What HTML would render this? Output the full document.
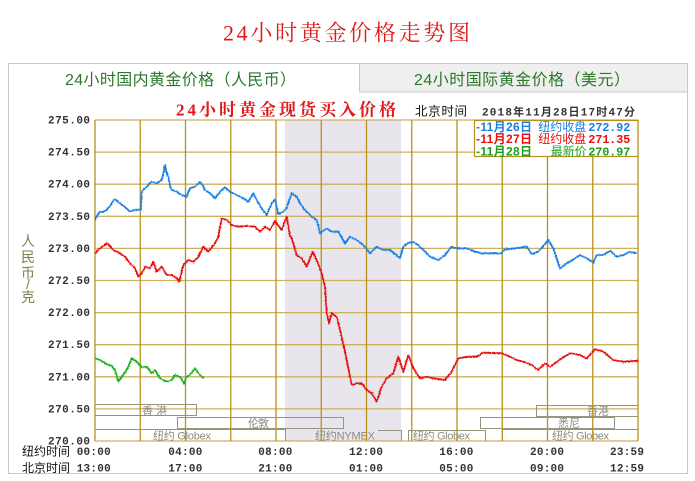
<!DOCTYPE html>
<html>
<head>
<meta charset="utf-8">
<style>
html,body{margin:0;padding:0;background:#fff;}
svg{display:block;}
.sans{font-family:"Liberation Sans","Noto Sans CJK SC",sans-serif;}
.serif{font-family:"Liberation Serif","Noto Serif CJK SC",serif;}
.mono{font-family:"Liberation Mono","Noto Sans CJK SC",monospace;font-weight:bold;}
</style>
</head>
<body>
<svg width="695" height="481" viewBox="0 0 695 481" xmlns="http://www.w3.org/2000/svg">
  <defs>
    <filter id="rough" x="-5%" y="-5%" width="110%" height="110%">
      <feTurbulence type="fractalNoise" baseFrequency="0.9" numOctaves="2" seed="3" result="n"/>
      <feDisplacementMap in="SourceGraphic" in2="n" scale="2.5" xChannelSelector="R" yChannelSelector="G"/>
    </filter>
  </defs>
  <rect x="0" y="0" width="695" height="481" fill="#ffffff"/>

  <!-- Title -->
  <text x="223" y="40.5" class="serif" font-size="22" fill="#e01818" textLength="247" lengthAdjust="spacing">24小时黄金价格走势图</text>

  <!-- Frame -->
  <rect x="8.5" y="63.5" width="679" height="410" fill="#ffffff" stroke="#c8c8c8" stroke-width="1"/>
  <!-- Tab 2 (inactive) -->
  <rect x="359.5" y="63.5" width="328" height="28.5" fill="#efefef" stroke="#c8c8c8" stroke-width="1"/>

  <text x="65" y="85" class="sans" font-size="16" fill="#2a7a2a" textLength="231" lengthAdjust="spacing">24小时国内黄金价格（人民币）</text>
  <text x="414" y="85" class="sans" font-size="16" fill="#2a7a2a" textLength="216" lengthAdjust="spacing">24小时国际黄金价格（美元）</text>

  <!-- Subtitle -->
  <text x="176" y="115.5" class="serif" font-size="17" font-weight="bold" fill="#e01818" textLength="220" lengthAdjust="spacing">24小时黄金现货买入价格</text>
  <text x="415" y="115.5" class="sans" font-size="12.5" fill="#111" textLength="52" lengthAdjust="spacing">北京时间</text>
  <text x="482" y="115.5" class="mono" font-size="11" fill="#333" textLength="153" lengthAdjust="spacing">2018年11月28日17时47分</text>

  <!-- Shaded region -->
  <rect x="285" y="120" width="116" height="321" fill="#e8e6ec"/>

  <!-- Horizontal grid -->
  <g stroke="#cdb060" stroke-width="1.3">
    <line x1="95" y1="120" x2="638" y2="120"/>
    <line x1="95" y1="152.1" x2="638" y2="152.1"/>
    <line x1="95" y1="184.2" x2="638" y2="184.2"/>
    <line x1="95" y1="216.3" x2="638" y2="216.3"/>
    <line x1="95" y1="248.4" x2="638" y2="248.4"/>
    <line x1="95" y1="280.5" x2="638" y2="280.5"/>
    <line x1="95" y1="312.6" x2="638" y2="312.6"/>
    <line x1="95" y1="344.7" x2="638" y2="344.7"/>
    <line x1="95" y1="376.8" x2="638" y2="376.8"/>
    <line x1="95" y1="408.9" x2="638" y2="408.9"/>
    <line x1="95" y1="441" x2="638" y2="441"/>
  </g>

  <!-- Exchange boxes -->
  <g stroke="#95957f" stroke-width="1" fill="none">
    <polyline points="95,404.5 196.5,404.5 196.5,415.5 95,415.5"/>
    <rect x="177.5" y="417.5" width="166" height="11"/>
    <polyline points="95,429.5 285.5,429.5 285.5,441"/>
    <polyline points="378,430.5 401.5,430.5 401.5,441"/>
    <polyline points="408.5,441 408.5,430.5 485.5,430.5 485.5,441"/>
    <polyline points="502.5,441 502.5,429.5 638,429.5"/>
    <rect x="480.5" y="417.5" width="134" height="11"/>
    <polyline points="638,405.5 536.5,405.5 536.5,416.5 638,416.5"/>
  </g>
  <g class="sans" font-size="11" fill="#8a8a80">
    <text x="142" y="414.5" textLength="25" lengthAdjust="spacing">香港</text>
    <text x="248" y="427" textLength="21" lengthAdjust="spacing">伦敦</text>
    <text x="153" y="439.5" textLength="58" lengthAdjust="spacing">纽约 Globex</text>
    <text x="315" y="439.5" textLength="60" lengthAdjust="spacing">纽约NYMEX</text>
    <text x="413" y="439.5" textLength="57" lengthAdjust="spacing">纽约 Globex</text>
    <text x="552" y="439.5" textLength="57" lengthAdjust="spacing">纽约 Globex</text>
    <text x="558" y="427" textLength="22" lengthAdjust="spacing">悉尼</text>
    <text x="587" y="414.5" textLength="22" lengthAdjust="spacing">香港</text>
  </g>

  <!-- Vertical grid -->
  <g stroke="#b8921e" stroke-width="1.3">
    <line x1="95" y1="120" x2="95" y2="441"/>
    <line x1="140.25" y1="120" x2="140.25" y2="441"/>
    <line x1="185.5" y1="120" x2="185.5" y2="441"/>
    <line x1="230.75" y1="120" x2="230.75" y2="441"/>
    <line x1="276" y1="120" x2="276" y2="441"/>
    <line x1="321.25" y1="120" x2="321.25" y2="441"/>
    <line x1="366.5" y1="120" x2="366.5" y2="441"/>
    <line x1="411.75" y1="120" x2="411.75" y2="441"/>
    <line x1="457" y1="120" x2="457" y2="441"/>
    <line x1="502.25" y1="120" x2="502.25" y2="441"/>
    <line x1="547.5" y1="120" x2="547.5" y2="441"/>
    <line x1="592.75" y1="120" x2="592.75" y2="441"/>
    <line x1="638" y1="120" x2="638" y2="441"/>
  </g>

  <!-- Series -->
  <g filter="url(#rough)">
  <polyline fill="none" stroke="#1c80e2" stroke-width="1.8" stroke-linejoin="round" points="95,220 98,214 100,211.7 103,212 106.7,210 110,206 113,201 115,199.3 117,201 120,203.3 125,207 130,211.7 134,210 138,210 141,209.5 141.7,192 144,189 146.7,186.7 150,183 151.7,181.7 156.7,183.3 160,181 161.7,180 163,175 165,165 166.5,172 168.3,176.7 170,186 171.7,190 176.7,191.7 181.7,195 186.7,196.7 190,188.3 195,186.7 200,181.7 203,186 205,190 210,193.3 215,198.3 220,191.7 225,187.3 230,191.7 236.7,195 243.3,198.3 248.3,201.7 253.3,193.3 256.7,200 261.7,208.3 266.7,215 271.7,203.3 275,199.3 278.3,214 283.3,211.7 286.7,208 291.7,193.3 296.7,196.7 300,203.3 305,210 311.7,216.7 316.7,220 320,233.3 326.7,228.3 331.7,231.7 338.3,231.7 345,243.3 350,236.7 356.7,240 363.3,245 370,253.3 376.7,246.7 383.3,250 390,250 395,254 398.3,256.7 400,258 403.3,246.7 408,243 413.3,241.7 418,245 421.7,248.3 430,256.7 438.3,260 445,255 451.7,246.7 456.7,248.3 466.7,248.3 475,251.7 481.7,253.3 501.7,253.3 505,249.3 515,248.3 526.7,246.7 531.7,254 538.3,251.7 548.3,240 553.3,248.3 560,268.3 566.7,263.3 575,258.3 580,255 586.7,258.3 593.3,262.7 596.7,255 603.3,255 610,250.7 616.7,256.7 623.3,255 630,251.7 636.7,253.3"/>
  <polyline fill="none" stroke="#e81010" stroke-width="1.8" stroke-linejoin="round" points="95,253.3 100,248.3 106.7,243.3 110,246 113.3,250 120,253.3 125,256.7 130,263.3 135,268.3 138.3,276.7 141.7,273.3 145,266.7 150,268.3 153.3,261.7 156.7,271.7 161.7,266.7 166.7,275 171.7,275 176.7,278.3 179.3,281.7 183.3,265 188.3,260 193.3,261.7 198.3,256.7 203.3,246.7 208.3,251.7 215,243.3 218.3,236.7 221.7,218.3 226.7,220 231.7,225 238.3,226.7 246.7,226 255,226.7 260,231.7 265,226.7 270,230 275,221 281.7,230 286.7,216.7 290,236 291.7,238.3 296.7,255 301.7,258.3 306.7,266.7 312.7,251.7 317.3,261.7 321.7,273.3 325,286.7 326.7,313.3 329,323.3 331.7,313.3 336.7,316.7 341.7,336.7 346.7,360 351.7,385 356.7,383.3 361.7,383.3 366.7,390 371.7,393.3 376.7,401.7 381.7,386.7 386.7,378.3 393.3,373.3 398.3,356.7 403.3,371.7 408.3,355 413.3,368.3 420,378.3 426.7,376.7 433.3,378.3 445,380 451.7,371.7 458.3,358.3 466.7,356.7 476.7,356.7 483.3,352.7 501.7,353.3 510,356.7 516.7,360 523.3,361.7 531.7,365 538.3,370 545,363.3 550,366.7 561.7,358.3 570,353.3 580,355 586.7,358.3 595,349.3 603.3,351.7 613.3,360 623.3,361.7 638.3,360.7"/>
  <polyline fill="none" stroke="#18b018" stroke-width="1.8" stroke-linejoin="round" points="95.3,358.3 100,360 105,363.3 111.7,366 115,370 118.3,381.7 121.7,376.7 126.7,370 131.7,358.3 136.7,361.7 141.7,367.3 146.7,366.7 151.7,373.3 155,370 160,378.3 166.7,381.7 171.7,380 175,375 180,376.7 184,383.3 186.7,376.7 190,375 195,368.3 198.3,373.3 201.7,376.7 204,378.3"/>
  </g>

  <!-- Legend -->
  <rect x="474.5" y="120.5" width="163.5" height="36" fill="#ffffff" stroke="#b8921e" stroke-width="1.2"/>
  <g font-size="12" font-weight="bold">
    <text x="476" y="131" class="sans" fill="#1c80e2" textLength="56" lengthAdjust="spacing">-11月26日</text>
    <text x="538.3" y="131" class="sans" font-weight="normal" fill="#1c80e2" textLength="48" lengthAdjust="spacing">纽约收盘</text>
    <text x="588.3" y="131" class="mono" fill="#1c80e2" textLength="42" lengthAdjust="spacing">272.92</text>
    <text x="476" y="143" class="sans" fill="#e81010" textLength="56" lengthAdjust="spacing">-11月27日</text>
    <text x="538.3" y="143" class="sans" font-weight="normal" fill="#e81010" textLength="48" lengthAdjust="spacing">纽约收盘</text>
    <text x="588.3" y="143" class="mono" fill="#e81010" textLength="42" lengthAdjust="spacing">271.35</text>
    <text x="476" y="155.5" class="sans" fill="#18a018" textLength="56" lengthAdjust="spacing">-11月28日</text>
    <text x="550.7" y="155.5" class="sans" font-weight="normal" fill="#18a018" textLength="36" lengthAdjust="spacing">最新价</text>
    <text x="588.3" y="155.5" class="mono" fill="#18a018" textLength="42" lengthAdjust="spacing">270.97</text>
  </g>

  <!-- Y labels -->
  <g class="mono" font-size="11" fill="#333" text-anchor="end">
    <text x="90" y="123.5" textLength="42" lengthAdjust="spacing">275.00</text>
    <text x="90" y="155.6" textLength="42" lengthAdjust="spacing">274.50</text>
    <text x="90" y="187.7" textLength="42" lengthAdjust="spacing">274.00</text>
    <text x="90" y="219.8" textLength="42" lengthAdjust="spacing">273.50</text>
    <text x="90" y="251.9" textLength="42" lengthAdjust="spacing">273.00</text>
    <text x="90" y="284" textLength="42" lengthAdjust="spacing">272.50</text>
    <text x="90" y="316.1" textLength="42" lengthAdjust="spacing">272.00</text>
    <text x="90" y="348.2" textLength="42" lengthAdjust="spacing">271.50</text>
    <text x="90" y="380.3" textLength="42" lengthAdjust="spacing">271.00</text>
    <text x="90" y="412.4" textLength="42" lengthAdjust="spacing">270.50</text>
    <text x="90" y="444.5" textLength="42" lengthAdjust="spacing">270.00</text>
  </g>

  <!-- Y axis title -->
  <g class="sans" font-size="14" fill="#80804f" text-anchor="middle">
    <text x="28" y="246">人</text>
    <text x="28" y="262">民</text>
    <text x="28" y="278">币</text>
    <text x="28" y="289">/</text>
    <text x="28" y="302">克</text>
  </g>

  <!-- X labels -->
  <g class="sans" font-size="12" fill="#111">
    <text x="22" y="455.5" textLength="48" lengthAdjust="spacing">纽约时间</text>
    <text x="22" y="472" textLength="48" lengthAdjust="spacing">北京时间</text>
  </g>
  <g class="mono" font-size="11" fill="#333">
    <text x="76.7" y="455" textLength="34" lengthAdjust="spacing">00:00</text>
    <text x="168.3" y="455" textLength="34" lengthAdjust="spacing">04:00</text>
    <text x="258.3" y="455" textLength="34" lengthAdjust="spacing">08:00</text>
    <text x="349" y="455" textLength="34" lengthAdjust="spacing">12:00</text>
    <text x="439.3" y="455" textLength="34" lengthAdjust="spacing">16:00</text>
    <text x="530" y="455" textLength="34" lengthAdjust="spacing">20:00</text>
    <text x="610" y="455" textLength="34" lengthAdjust="spacing">23:59</text>
    <text x="76.7" y="471.5" textLength="34" lengthAdjust="spacing">13:00</text>
    <text x="168.3" y="471.5" textLength="34" lengthAdjust="spacing">17:00</text>
    <text x="258.3" y="471.5" textLength="34" lengthAdjust="spacing">21:00</text>
    <text x="349" y="471.5" textLength="34" lengthAdjust="spacing">01:00</text>
    <text x="439.3" y="471.5" textLength="34" lengthAdjust="spacing">05:00</text>
    <text x="530" y="471.5" textLength="34" lengthAdjust="spacing">09:00</text>
    <text x="610" y="471.5" textLength="34" lengthAdjust="spacing">12:59</text>
  </g>
</svg>
</body>
</html>
